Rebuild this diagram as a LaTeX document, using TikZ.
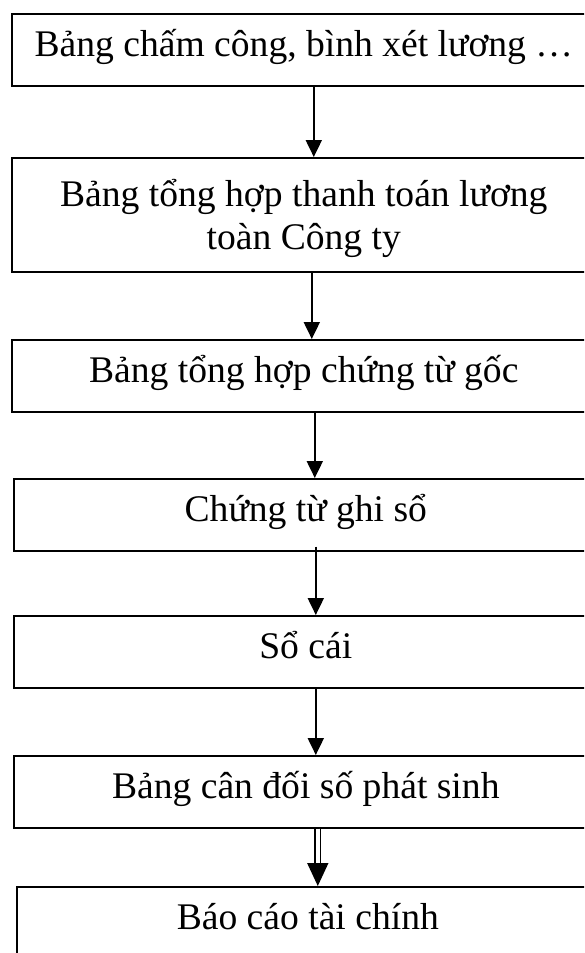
\documentclass[tikz,border=0pt]{standalone}
\usepackage{fontspec}
\setmainfont{Liberation Serif}
\usetikzlibrary{arrows.meta}

% two centred lines with a fixed distance between their baselines
\newcommand\twolines[2]{\vbox{\lineskiplimit=-100pt\baselineskip=43pt
  \halign{\hfil##\hfil\cr#1\cr#2\cr}}}

\tikzset{
  stepbox/.style={draw=black, line width=1.6pt, rectangle, anchor=north west,
    inner sep=0pt, minimum height=72pt, text height=26pt, text depth=12pt,
    font=\fontsize{37.6}{43}\selectfont},
  flow/.style={draw=black, line width=2pt,
    -{Triangle[width=16pt,length=17pt]}},
  dflow/.style={draw=black, line width=1.7pt, double, double distance=3.8pt,
    -{Triangle[width=21pt,length=23pt]}},
}

\begin{document}
\begin{tikzpicture}[x=1pt, y=-1pt]
  \useasboundingbox (0,0) rectangle (584,953);
  \clip (0,0) rectangle (584,953);

  % document flow, top to bottom
  \node[stepbox, minimum width=584pt] (b1) at (11,13) {Bảng chấm công, bình xét lương …};
  \node[stepbox, minimum width=584pt, minimum height=114pt,
        text height=76pt, text depth=6pt] (b2) at (11,157)
        {\twolines{Bảng tổng hợp thanh toán lương}{toàn Công ty}};
  \node[stepbox, minimum width=584pt] (b3) at (11,339) {Bảng tổng hợp chứng từ gốc};
  \node[stepbox, minimum width=584pt] (b4) at (13,478) {Chứng từ ghi sổ};
  \node[stepbox, minimum width=584pt] (b5) at (13,615) {Sổ cái};
  \node[stepbox, minimum width=584pt] (b6) at (13,755) {Bảng cân đối số phát sinh};
  \node[stepbox, minimum width=582pt] (b7) at (16,886) {Báo cáo tài chính};

  % connectors, each one straight down
  \draw[flow] ([xshift=10pt]b1.south) -- ([xshift=10pt]b1.south |- b2.north);
  \draw[flow] ([xshift=8pt]b2.south) -- ([xshift=8pt]b2.south |- b3.north);
  \draw[flow] ([xshift=11pt]b3.south) -- ([xshift=11pt]b3.south |- b4.north);
  \draw[flow] ([xshift=10pt,yshift=5pt]b4.south) -- ([xshift=10pt]b4.south |- b5.north);
  \draw[flow] ([xshift=10pt]b5.south) -- ([xshift=10pt]b5.south |- b6.north);
  \draw[dflow] ([xshift=12pt]b6.south) -- ([xshift=12pt]b6.south |- b7.north);
\end{tikzpicture}
\end{document}
